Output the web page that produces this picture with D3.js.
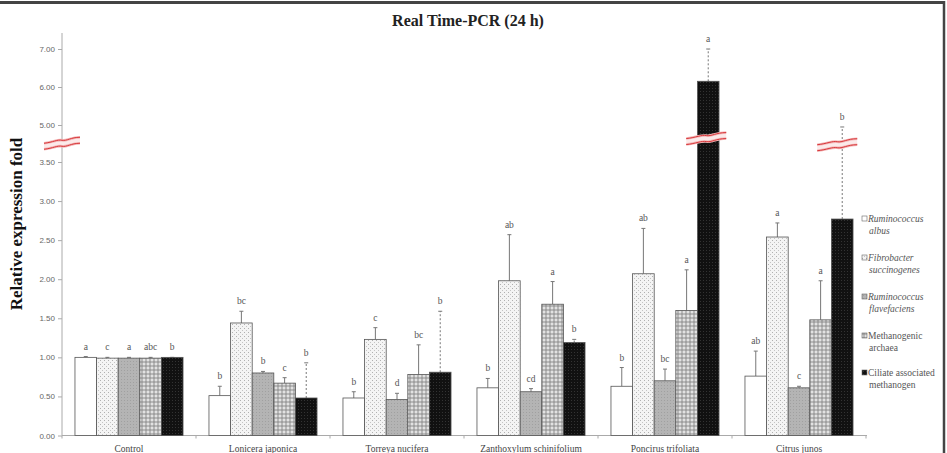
<!DOCTYPE html>
<html>
<head>
<meta charset="utf-8">
<script src="https://cdn.jsdelivr.net/npm/d3@7/dist/d3.min.js"></script>
<style>
html,body{margin:0;padding:0;background:#fff;}
svg{display:block;}
</style>
</head>
<body>
<svg id="chart" width="947" height="453"></svg>
<script>
// ---- data ----
const groups = ["Control", "Lonicera japonica", "Torreya nucifera", "Zanthoxylum schinifolium", "Poncirus trifoliata", "Citrus junos"];
const seriesNames = ["Ruminococcus albus", "Fibrobacter succinogenes", "Ruminococcus flavefaciens", "Methanogenic archaea", "Ciliate associated methanogen"];
const albus = [1.00, 0.51, 0.48, 0.61, 0.63, 0.76];
const fibro = [0.99, 1.44, 1.23, 1.98, 2.07, 2.54];
const flav  = [0.99, 0.80, 0.46, 0.56, 0.70, 0.61];
const meth  = [0.99, 0.67, 0.78, 1.68, 1.60, 1.48];
const cil   = [1.00, 0.48, 0.81, 1.19, 6.15, 2.77];
const albusErr = [0.01, 0.12, 0.08, 0.12, 0.24, 0.32];
const fibroErr = [0.01, 0.15, 0.15, 0.59, 0.58, 0.18];
const flavErr  = [0.01, 0.02, 0.08, 0.04, 0.15, 0.02];
const methErr  = [0.01, 0.07, 0.38, 0.29, 0.52, 0.50];
const cilErr   = [0.00, 0.45, 0.78, 0.04, 0.85, 2.15];
const albusLet = ["a", "b", "b", "b", "b", "ab"];
const fibroLet = ["c", "bc", "c", "ab", "ab", "a"];
const flavLet  = ["a", "b", "d", "cd", "bc", "c"];
const methLet  = ["abc", "c", "bc", "a", "a", "a"];
const cilLet   = ["b", "b", "b", "b", "a", "b"];
const yTicks = [0, 0.5, 1, 1.5, 2, 2.5, 3, 3.5, 5, 6, 7];
const breakValue = 4.3;

const values = [albus, fibro, flav, meth, cil];
const errs = [albusErr, fibroErr, flavErr, methErr, cilErr];
const letters = [albusLet, fibroLet, flavLet, methLet, cilLet];

const svg = d3.select("#chart");
const defs = svg.append("defs");

// patterns
function pat(id, size, bg, draw) {
  const p = defs.append("pattern").attr("id", id).attr("patternUnits", "userSpaceOnUse")
    .attr("width", size).attr("height", size);
  p.append("rect").attr("width", size).attr("height", size).attr("fill", bg);
  draw(p);
}
pat("pWhite", 4, "#ffffff", p => {});
pat("pDots", 4, "#f4f4f4", p => {
  p.append("rect").attr("x", 0).attr("y", 0).attr("width", 1).attr("height", 1).attr("fill", "#b0b0b0");
  p.append("rect").attr("x", 2).attr("y", 2).attr("width", 1).attr("height", 1).attr("fill", "#c4c4c4");
});
pat("pGray", 3, "#b4b4b4", p => {
  p.append("rect").attr("x", 1).attr("y", 1).attr("width", 1).attr("height", 1).attr("fill", "#a0a0a0");
});
pat("pCheck", 4, "#e2e2e2", p => {
  p.append("path").attr("d", "M0,2 L2,0 L4,2 L2,4 Z").attr("fill", "#8e8e8e");
  p.append("rect").attr("x", 1.5).attr("y", 1.5).attr("width", 1).attr("height", 1).attr("fill", "#d8d8d8");
});
pat("pBlack", 3, "#111111", p => {
  p.append("rect").attr("x", 1).attr("y", 1).attr("width", 1).attr("height", 1).attr("fill", "#333");
});
const fills = ["url(#pWhite)", "url(#pDots)", "url(#pGray)", "url(#pCheck)", "url(#pBlack)"];

// scales
const x0 = d3.scaleBand().domain(groups).range([62, 866]).paddingInner(0).paddingOuter(0);
const x1 = d3.scaleBand().domain(d3.range(seriesNames.length)).range([0, x0.bandwidth()]).paddingOuter(0.6).paddingInner(0);
const y = d3.scaleLinear().domain([0, 3.5, 5, 7]).range([435.5, 162, 125, 49]);

// frame
svg.append("line").attr("x1", 0).attr("x2", 945).attr("y1", 2.5).attr("y2", 2.5).attr("stroke", "#444").attr("stroke-width", 3);
svg.append("line").attr("x1", 944).attr("x2", 944).attr("y1", 1).attr("y2", 453).attr("stroke", "#444").attr("stroke-width", 2.5);

// title
svg.append("text").attr("x", 468).attr("y", 26).attr("text-anchor", "middle")
  .attr("font-family", "Liberation Serif, serif").attr("font-weight", "bold").attr("font-size", 16)
  .attr("fill", "#222").text("Real Time-PCR (24 h)");

// y axis label
svg.append("text").attr("transform", "translate(22,224) rotate(-90)").attr("text-anchor", "middle")
  .attr("font-family", "Liberation Serif, serif").attr("font-weight", "bold").attr("font-size", 17)
  .attr("fill", "#111").text("Relative expression fold");

// y axis
const yAxis = d3.axisLeft(y).tickValues(yTicks).tickFormat(d3.format(".2f")).tickSize(4).tickSizeOuter(0);
const gy = svg.append("g").attr("transform", "translate(62,0)").call(yAxis);
gy.select(".domain").remove();
gy.append("line").attr("x1", 0).attr("x2", 0).attr("y1", 33).attr("y2", y(0)).attr("stroke", "#aaa");
gy.selectAll(".tick line").attr("stroke", "#aaa");
gy.selectAll(".tick text").attr("font-family", "Liberation Sans, Arial, sans-serif").attr("font-size", 8)
  .attr("fill", "#666").attr("x", -7);

// x axis
const gx = svg.append("g").attr("transform", `translate(0,${y(0)})`);
gx.append("line").attr("x1", 62).attr("x2", 867).attr("stroke", "#aaa");
const bounds = groups.map(g => x0(g)).concat([x0(groups[groups.length - 1]) + x0.bandwidth()]);
gx.selectAll("line.bt").data(bounds).join("line").attr("class", "bt")
  .attr("x1", d => d).attr("x2", d => d).attr("y1", 0).attr("y2", 3).attr("stroke", "#aaa");
gx.selectAll("text").data(groups).join("text")
  .attr("x", d => x0(d) + x0.bandwidth() / 2).attr("y", 16).attr("text-anchor", "middle")
  .attr("font-family", "Liberation Serif, serif").attr("font-size", 9.5).attr("fill", "#444").text(d => d);

// bars
const bw = x1.bandwidth();
seriesNames.forEach((s, si) => {
  const g = svg.append("g");
  const data = groups.map((gname, gi) => ({ g: gname, v: values[si][gi], e: errs[si][gi], l: letters[si][gi] }));
  // error bars
  g.selectAll("line.err").data(data).join("line").attr("class", "err")
    .attr("x1", d => x0(d.g) + x1(si) + bw / 2).attr("x2", d => x0(d.g) + x1(si) + bw / 2)
    .attr("y1", d => y(d.v)).attr("y2", d => y(d.v + d.e))
    .attr("stroke", "#777").attr("stroke-width", 1)
    .attr("stroke-dasharray", si === 4 ? "2,2" : null);
  g.selectAll("line.cap").data(data).join("line").attr("class", "cap")
    .attr("x1", d => x0(d.g) + x1(si) + bw / 2 - 2).attr("x2", d => x0(d.g) + x1(si) + bw / 2 + 2)
    .attr("y1", d => y(d.v + d.e)).attr("y2", d => y(d.v + d.e))
    .attr("stroke", "#777").attr("stroke-width", 1);
  g.selectAll("rect").data(data).join("rect")
    .attr("x", d => x0(d.g) + x1(si)).attr("width", bw)
    .attr("y", d => y(d.v)).attr("height", d => y(0) - y(d.v))
    .attr("fill", fills[si]).attr("stroke", "#555").attr("stroke-width", 0.8);
  g.selectAll("text").data(data).join("text")
    .attr("x", d => x0(d.g) + x1(si) + bw / 2).attr("y", d => y(d.v + d.e) - 7)
    .attr("text-anchor", "middle").attr("font-family", "Liberation Serif, serif").attr("font-size", 9.5)
    .attr("fill", "#555").text(d => d.l);
});

// break marks
function drawBreak(cx, cy, w) {
  const h = w / 2;
  const top = `M${cx - h},${cy} C${cx - h / 2},${cy - 1} ${cx - h / 4},${cy - 4} ${cx},${cy - 3} S${cx + h / 2},${cy - 6} ${cx + h},${cy - 6}`;
  const bot = `M${cx - h},${cy + 6} C${cx - h / 2},${cy + 5} ${cx - h / 4},${cy + 2} ${cx},${cy + 3} S${cx + h / 2},${cy} ${cx + h},${cy}`;
  const band = `M${cx - h},${cy} C${cx - h / 2},${cy - 1} ${cx - h / 4},${cy - 4} ${cx},${cy - 3} S${cx + h / 2},${cy - 6} ${cx + h},${cy - 6} L${cx + h},${cy} C${cx + h / 2},${cy} ${cx + h / 4},${cy + 4} ${cx},${cy + 3} S${cx - h / 2},${cy + 5} ${cx - h},${cy + 6} Z`;
  svg.append("path").attr("d", band).attr("fill", "#fbeaea");
  [top, bot].forEach(d => {
    svg.append("path").attr("d", d).attr("fill", "none").attr("stroke", "#f3b8b8").attr("stroke-width", 2.6);
    svg.append("path").attr("d", d).attr("fill", "none").attr("stroke", "#d8363a").attr("stroke-width", 1);
  });
}
drawBreak(62, y(breakValue) + 1, 36);
drawBreak(x0(groups[4]) + x1(4) + bw / 2 - 2, y(breakValue + 0.15), 40);
drawBreak(x0(groups[5]) + x1(4) + bw / 2 - 5, y(breakValue - 0.1), 40);

// legend
const legend = svg.append("g").attr("transform", "translate(862,0)");
const legLines = [
  ["Ruminococcus", "albus", true],
  ["Fibrobacter", "succinogenes", true],
  ["Ruminococcus", "flavefaciens", true],
  ["Methanogenic", "archaea", false],
  ["Ciliate associated", "methanogen", false]
];
const legY = [219, 258, 297, 336, 373];
seriesNames.forEach((s, i) => {
  const gi = legend.append("g").attr("transform", `translate(0,${legY[i]})`);
  gi.append("rect").attr("x", 0).attr("y", -3).attr("width", 5).attr("height", 5)
    .attr("fill", fills[i]).attr("stroke", "#666").attr("stroke-width", 0.6);
  const t = gi.append("text").attr("font-family", "Liberation Serif, serif").attr("font-size", 9.5)
    .attr("fill", "#555").attr("font-style", legLines[i][2] ? "italic" : "normal");
  t.append("tspan").attr("x", 6).attr("y", 3).text(legLines[i][0]);
  t.append("tspan").attr("x", 7).attr("y", 15).text(legLines[i][1]);
});
</script>
</body>
</html>
